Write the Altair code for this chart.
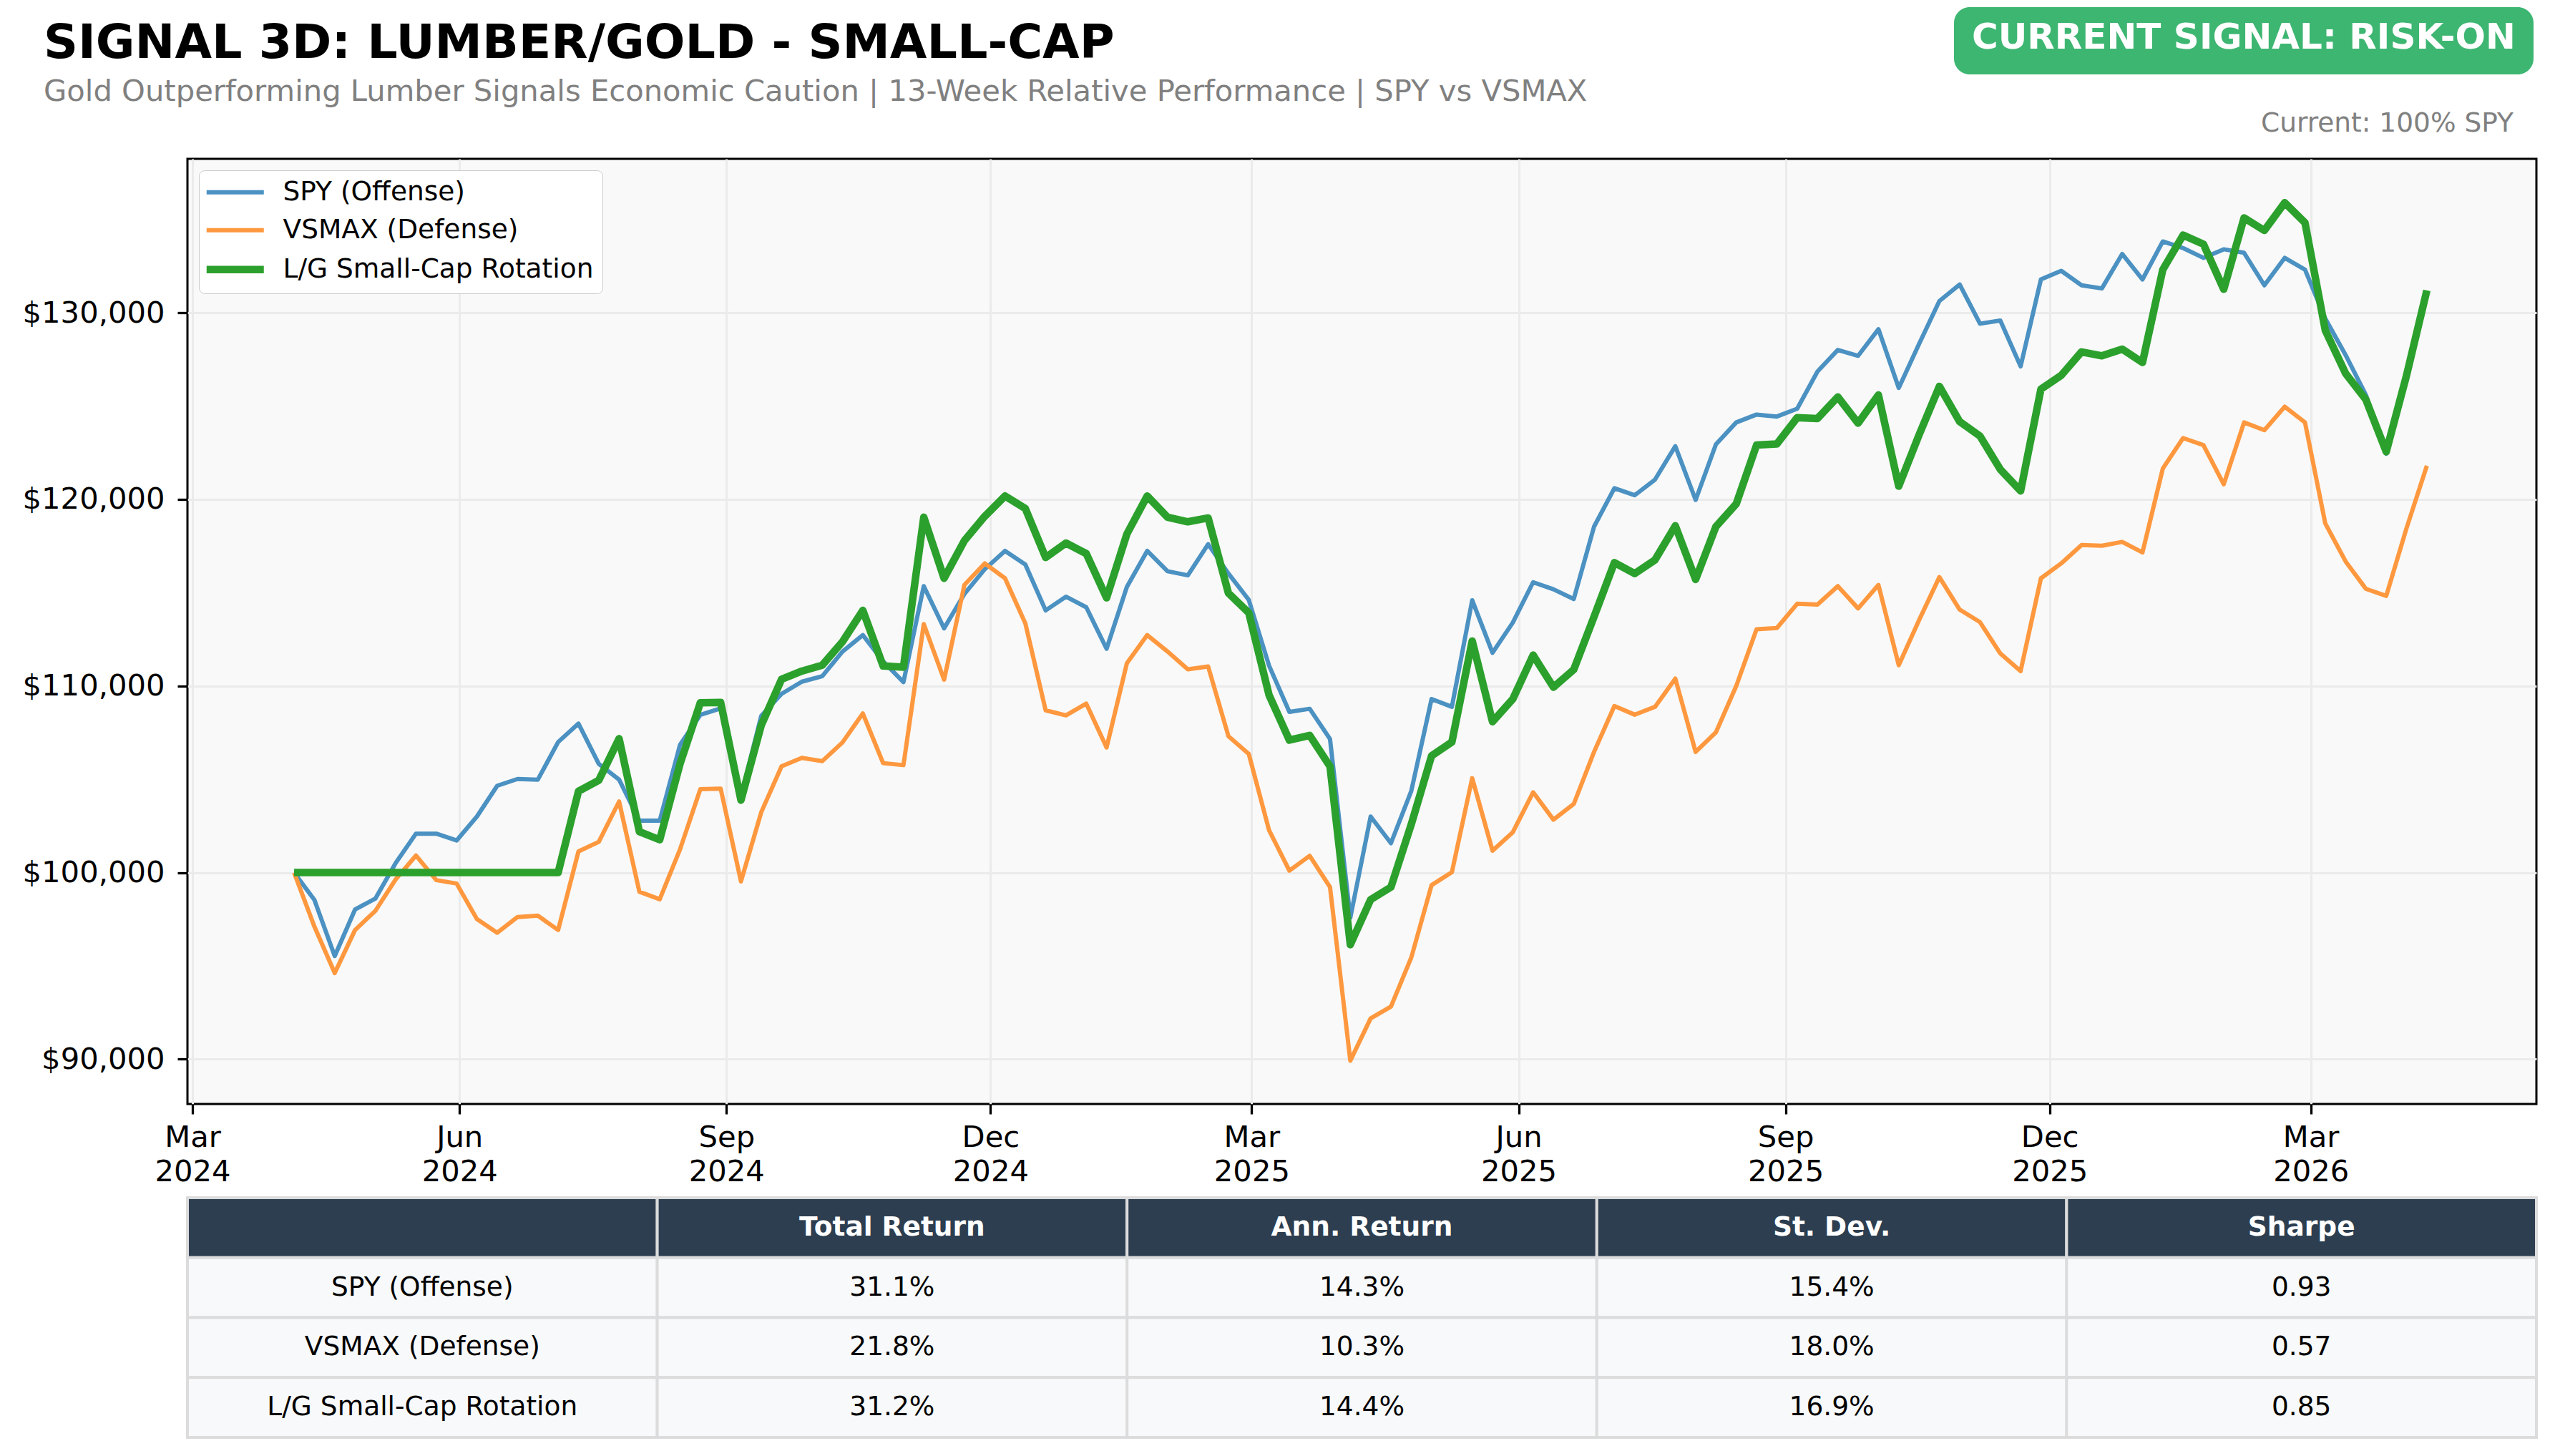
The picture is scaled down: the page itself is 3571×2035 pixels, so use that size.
import pandas as pd
import altair as alt

# weekly closes, Fridays
week_dates = pd.date_range("2024-04-05", periods=106, freq="7D")

spy_values = [
    100000, 98535, 95530, 98022, 98608, 100513, 102088, 102088, 101722, 103004,
    104652, 105018, 104982, 106996, 107985, 105824, 104982, 102784, 102784, 106850,
    108450, 108800, 104100, 108400, 109580, 110231, 110525, 111847, 112729, 111322,
    110210, 115353, 113086, 114933, 116255, 117242, 116507, 114051, 114786, 114219,
    111994, 115311, 117242, 116150, 115930, 117598, 116023, 114616, 111088, 108610,
    108778, 107161, 97585, 103003, 101575, 104368, 109303, 108883, 114595, 111781,
    113398, 115561, 115183, 114658, 118543, 120601, 120223, 121063, 122850, 119971,
    122950, 124127, 124546, 124441, 124861, 126855, 128010, 127695, 129122, 125974,
    128325, 130630, 131515, 129416, 129584, 127128, 131788, 132250, 131473, 131305,
    133152, 131788, 133824, 133467, 132943, 133404, 133215, 131473, 132943, 132313,
    129689, 127737, 125596, 122447, 126600, 131100,
]

vsmax_values = [
    100000, 97106, 94615, 96923, 97949, 99634, 100916, 99597, 99414, 97509,
    96777, 97619, 97692, 96923, 101135, 101648, 103810, 98974, 98571, 101245,
    104470, 104500, 99526, 103238, 105696, 106150, 105970, 106977, 108531, 105865,
    105760, 113316, 110336, 115415, 116570, 115772, 113358, 108699, 108426, 109055,
    106705, 111217, 112729, 111847, 110890, 111046, 107308, 106363, 102268, 100105,
    100903, 99223, 89920, 92188, 92818, 95443, 99328, 100021, 105061, 101176,
    102163, 104305, 102835, 103675, 106468, 108925, 108463, 108883, 110395, 106468,
    107518, 110000, 113044, 113107, 114408, 114366, 115352, 114156, 115415, 111112,
    113526, 115835, 114093, 113421, 111742, 110798, 115772, 116570, 117556, 117514,
    117724, 117158, 121650, 123287, 122909, 120810, 124127, 123707, 124966, 124127,
    118711, 116675, 115205, 114828, 118459, 121800,
]

rotation_values = [
    100000, 100000, 100000, 100000, 100000, 100000, 100000, 100000, 100000, 100000,
    100000, 100000, 100000, 100000, 104359, 104945, 107179, 102198, 101758, 105824,
    109100, 109120, 103878, 107900, 110360, 110798, 111113, 112372, 114051, 111071,
    111008, 119047, 115772, 117788, 119089, 120181, 119509, 116885, 117661, 117095,
    114723, 118144, 120181, 119047, 118800, 119005, 114973, 113923, 109513, 107098,
    107350, 105691, 96136, 98551, 99223, 102583, 106258, 106993, 112411, 108085,
    109303, 111655, 109933, 110878, 113713, 116611, 116023, 116758, 118585, 115708,
    118543, 119760, 122909, 122972, 124378, 124336, 125491, 124085, 125596, 120705,
    123454, 126058, 124168, 123392, 121607, 120453, 125911, 126646, 127905, 127695,
    128052, 127338, 132313, 134160, 133677, 131263, 135084, 134412, 135900, 134832,
    129059, 126750, 125344, 122552, 126646, 131200,
]

series_names = ["SPY (Offense)", "VSMAX (Defense)", "L/G Small-Cap Rotation"]
series_colors = ["#4b91c2", "#fe983f", "#2ca02c"]
series_widths = [6, 6, 10.5]

tick_months = [(2024, 3), (2024, 6), (2024, 9), (2024, 12), (2025, 3),
               (2025, 6), (2025, 9), (2025, 12), (2026, 3)]
y_ticks = [90000, 100000, 110000, 120000, 130000]

table_header = ["", "Total Return", "Ann. Return", "St. Dev.", "Sharpe"]
total_return = [31.1, 21.8, 31.2]
ann_return = [14.3, 10.3, 14.4]
st_dev = [15.4, 18.0, 16.9]
sharpe = [0.93, 0.57, 0.85]

title_text = "SIGNAL 3D: LUMBER/GOLD - SMALL-CAP"
subtitle_text = ("Gold Outperforming Lumber Signals Economic Caution | "
                 "13-Week Relative Performance | SPY vs VSMAX")
signal_text = "CURRENT SIGNAL: RISK-ON"
allocation_text = "Current: 100% SPY"

W, H = 3283, 1321

df = pd.concat([
    pd.DataFrame({"date": week_dates, "value": vals, "series": name})
    for name, vals in zip(series_names, [spy_values, vsmax_values, rotation_values])
])

# line symbol drawn 80px long while the legend row only reserves 40px;
# the rotation entry gets the thicker stroke, as in the plot
legend = alt.Legend(
    title=None, orient="top-left", offset=16, labelFontSize=37.5, labelColor="black",
    labelLimit=0, symbolType="M-1,0H3", symbolSize=1600, labelOffset=68,
    symbolStrokeWidth={"expr": f"datum.value === '{series_names[2]}' ? "
                               f"{series_widths[2]} : {series_widths[0]}"},
    fillColor="white", strokeColor="#cccccc", cornerRadius=8,
    padding=12, rowPadding=14,
)

x_enc = alt.X(
    "date:T",
    scale=alt.Scale(domain=[alt.DateTime(year=2024, month=2, date=28, hours=6),
                            alt.DateTime(year=2026, month=5, date=17, hours=18)]),
    axis=alt.Axis(
        title=None, values=[alt.DateTime(year=y, month=m, date=1) for y, m in tick_months],
        labelExpr="[timeFormat(datum.value, '%b'), timeFormat(datum.value, '%Y')]",
        labelFontSize=41.7, labelColor="black", labelLineHeight=48, labelPadding=12,
        tickSize=14, tickWidth=3.3, tickColor="black", domain=False,
        gridColor="#ebebeb", gridWidth=3,
    ),
)
y_enc = alt.Y(
    "value:Q",
    scale=alt.Scale(domain=[87600, 138250], nice=False, zero=False),
    axis=alt.Axis(
        title=None, values=y_ticks, format="$,.0f", labelFontSize=41.7, labelColor="black",
        labelLimit=0, labelPadding=18, tickSize=14, tickWidth=3.3, tickColor="black",
        domain=False, gridColor="#ebebeb", gridWidth=3,
    ),
)
color_enc = alt.Color("series:N", scale=alt.Scale(domain=series_names, range=series_colors),
                      legend=legend)

lines = [
    alt.Chart(df).transform_filter(alt.datum.series == name)
    .mark_line(strokeJoin="round", strokeWidth=w)
    .encode(x=x_enc, y=y_enc, color=color_enc)
    for name, w in zip(series_names, series_widths)
]

one = pd.DataFrame({"label": [title_text, subtitle_text, signal_text, allocation_text]})

title_mark = alt.Chart(one).transform_filter(alt.datum.label == title_text).mark_text(
    align="left", baseline="alphabetic", fontSize=66.7, fontWeight="bold", color="black"
).encode(x=alt.value(-201), y=alt.value(-141), text="label:N")

subtitle_mark = alt.Chart(one).transform_filter(alt.datum.label == subtitle_text).mark_text(
    align="left", baseline="alphabetic", fontSize=41.7, color="#808080"
).encode(x=alt.value(-201), y=alt.value(-81), text="label:N")

badge = alt.Chart(one).transform_filter(alt.datum.label == signal_text).mark_rect(
    cornerRadius=22, color="#3db672"
).encode(x=alt.value(2469), x2=alt.value(3279), y=alt.value(-212), y2=alt.value(-118))

badge_text = alt.Chart(one).transform_filter(alt.datum.label == signal_text).mark_text(
    align="center", baseline="alphabetic", fontSize=50, fontWeight="bold", color="white"
).encode(x=alt.value(2874), y=alt.value(-154), text="label:N")

allocation_mark = alt.Chart(one).transform_filter(alt.datum.label == allocation_text).mark_text(
    align="right", baseline="alphabetic", fontSize=37.5, color="#808080"
).encode(x=alt.value(3251), y=alt.value(-38), text="label:N")

main = alt.layer(*lines, title_mark, subtitle_mark, badge, badge_text, allocation_mark).properties(
    width=W, height=H,
    view=alt.ViewBackground(fill="#f9f9f9", stroke="black", strokeWidth=3),
)

# performance table
rows = [table_header] + [
    [n, f"{t:.1f}%", f"{a:.1f}%", f"{s:.1f}%", f"{sh:.2f}"]
    for n, t, a, s, sh in zip(series_names, total_return, ann_return, st_dev, sharpe)
]
cells = pd.DataFrame([
    {"row": r, "col": c, "text": txt}
    for r, row in enumerate(rows) for c, txt in enumerate(row)
])

tx = alt.X("col:O", axis=None, scale=alt.Scale(paddingInner=0, paddingOuter=0))
ty = alt.Y("row:O", axis=None, scale=alt.Scale(paddingInner=0, paddingOuter=0))

cell_rects = alt.Chart(cells).mark_rect(stroke="#dcdcdc", strokeWidth=4).encode(
    x=tx, y=ty,
    fill=alt.condition("datum.row == 0", alt.value("#2c3e50"), alt.value("#f8f9fa")),
)
head_text = alt.Chart(cells).transform_filter("datum.row == 0").mark_text(
    fontSize=37.5, fontWeight="bold", color="white"
).encode(x=tx, y=ty, text="text:N")
body_text = alt.Chart(cells).transform_filter("datum.row > 0").mark_text(
    fontSize=37.5, color="black"
).encode(x=tx, y=ty, text="text:N")

table = alt.layer(cell_rects, head_text, body_text).properties(width=W, height=335)

chart = alt.vconcat(main, table, spacing=131, bounds="flush").properties(
    padding={"left": 21, "top": 0, "right": 5, "bottom": 5}
).configure(font="DejaVu Sans").configure_view(stroke="transparent")

chart.save("out.html", embed_options={"renderer": "svg", "actions": False})
